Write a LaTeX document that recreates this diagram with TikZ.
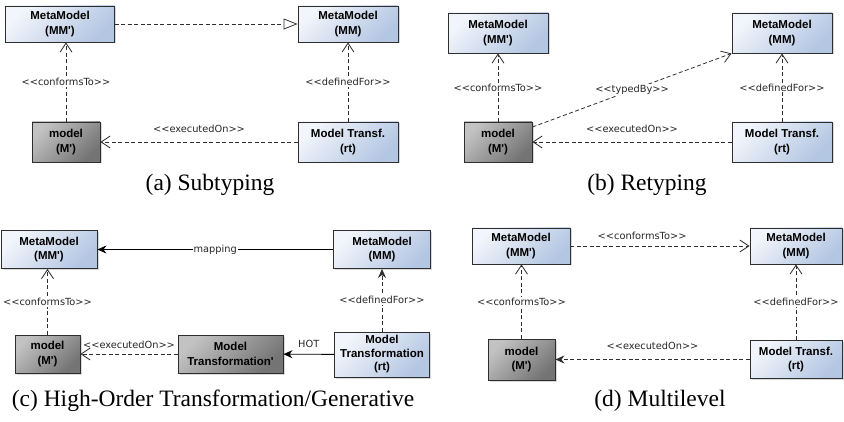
\documentclass[tikz,border=0pt]{standalone}
\usepackage{fontspec}
\setmainfont{Liberation Serif}
\newfontfamily\boxfont{Liberation Sans}
\newfontfamily\lblfont{DejaVu Sans}
\usetikzlibrary{arrows.meta,shadows}
\definecolor{metatop}{HTML}{F2F5FB}
\definecolor{metabot}{HTML}{B3C6E2}
\definecolor{modeltop}{HTML}{C2C2C2}
\definecolor{modelbot}{HTML}{747474}
\definecolor{edge}{HTML}{2E2E2E}
\tikzstyle{metabox}=[rectangle, draw=edge, line width=0.9pt, top color=metatop, bottom color=metabot, shading angle=45, drop shadow={opacity=0.3, shadow xshift=1.5pt, shadow yshift=-1.5pt}, align=center, inner sep=0pt, font=\boxfont\bfseries\fontsize{11.5}{14.5}\selectfont]
\tikzstyle{modelbox}=[metabox, top color=modeltop, bottom color=modelbot, shading angle=45]
\tikzstyle{lbl}=[font=\lblfont\fontsize{9.8}{11}\selectfont, inner sep=1pt, text=black!85]
\tikzstyle{onlbl}=[lbl, fill=white]
\tikzstyle{dep}=[draw=edge, line width=0.8pt, dash pattern=on 4pt off 2.5pt, -{Straight Barb[length=9pt,width=12pt]}]
\tikzstyle{depfill}=[draw=edge, line width=0.8pt, dash pattern=on 4pt off 2.5pt, -{Stealth[length=9pt,width=8pt,inset=3pt]}]
\tikzstyle{plain}=[draw=black, line width=0.9pt, -{Stealth[length=9pt,width=8pt,inset=3pt]}]
\tikzstyle{captext}=[font=\fontsize{23.5}{28}\selectfont]

\begin{document}
\begin{tikzpicture}[x=1pt, y=-1pt]
\useasboundingbox (0,0) rectangle (844,422);
% (a)
\node[metabox, minimum width=109pt, minimum height=36pt] (a1) at (60,24) {MetaModel\\(MM\textquotesingle)};
\node[metabox, minimum width=100pt, minimum height=36pt] (a2) at (348,24) {MetaModel\\(MM)};
\node[modelbox, minimum width=68pt, minimum height=40pt] (a3) at (66,142) {model\\(M\textquotesingle)};
\node[metabox, minimum width=100pt, minimum height=40pt] (a4) at (348,142) {Model Transf.\\(rt)};
\draw[dep] (a3) -- node[onlbl] {<<conformsTo>>} (a3 |- a1.south);
\draw[dep] (a4) -- node[onlbl] {<<definedFor>>} (a4 |- a2.south);
\draw[dep, -{Triangle[open, length=14pt, width=11pt, fill=white]}] (a1) -- (a2);
\draw[dep] (a4) -- node[lbl, above=8pt] {<<executedOn>>} (a3);
\node[captext] (capa) at (210,185) {(a) Subtyping};
% (b)
\node[metabox, minimum width=100pt, minimum height=40pt] (b1) at (498,33) {MetaModel\\(MM\textquotesingle)};
\node[metabox, minimum width=100pt, minimum height=40pt] (b2) at (782,33) {MetaModel\\(MM)};
\node[modelbox, minimum width=68pt, minimum height=40pt] (b3) at (498,142) {model\\(M\textquotesingle)};
\node[metabox, minimum width=100pt, minimum height=40pt] (b4) at (782,142) {Model Transf.\\(rt)};
\draw[dep] (b3) -- node[onlbl] {<<conformsTo>>} (b1);
\draw[dep] (b4) -- node[onlbl] {<<definedFor>>} (b2);
\draw[dep] ([yshift=15pt]b3.east) -- node[onlbl] {<<typedBy>>} (b2.south west);
\draw[dep] (b4) -- node[lbl, above=8pt] {<<executedOn>>} (b3);
\node[captext] (capb) at (647,185) {(b) Retyping};
% (c)
\node[metabox, minimum width=96pt, minimum height=38pt] (c1) at (49,249.5) {MetaModel\\(MM\textquotesingle)};
\node[metabox, minimum width=97pt, minimum height=38pt] (c2) at (382,249.5) {MetaModel\\(MM)};
\node[modelbox, minimum width=65pt, minimum height=38pt] (c3) at (47.5,354) {model\\(M\textquotesingle)};
\node[modelbox, minimum width=105pt, minimum height=38pt] (c4) at (230.5,354) {Model\\Transformation\textquotesingle};
\node[metabox, minimum width=95pt, minimum height=45pt, font=\boxfont\bfseries\fontsize{11.5}{13.5}\selectfont] (c5) at (382,354.5) {Model\\Transformation\\(rt)};
\draw[plain] (c2) -- node[onlbl] {mapping} (c1);
\draw[dep] (c3) -- node[onlbl] {<<conformsTo>>} (c3 |- c1.south);
\draw[depfill] (c5) -- node[onlbl] {<<definedFor>>} (c2);
\draw[plain] (c5) -- node[lbl, above=5pt] {HOT} (c4);
\draw[dep] (c4) -- node[lbl, above=4pt] {<<executedOn>>} (c3);
\node[captext] (capc) at (213,401) {(c) High-Order Transformation/Generative};
% (d)
\node[metabox, minimum width=98pt, minimum height=36pt] (d1) at (521,246) {MetaModel\\(MM\textquotesingle)};
\node[metabox, minimum width=92pt, minimum height=36pt] (d2) at (796,246) {MetaModel\\(MM)};
\node[modelbox, minimum width=67pt, minimum height=41pt] (d3) at (521.5,359.5) {model\\(M\textquotesingle)};
\node[metabox, minimum width=92pt, minimum height=38pt] (d4) at (796,359.5) {Model Transf.\\(rt)};
\draw[dep] (d1) -- node[lbl, above=5pt, pos=0.4] {<<conformsTo>>} (d2);
\draw[dep] (d3) -- node[onlbl] {<<conformsTo>>} (d3 |- d1.south);
\draw[dep] (d4) -- node[onlbl] {<<definedFor>>} (d2);
\draw[depfill] (d4) -- node[lbl, above=8pt] {<<executedOn>>} (d3);
\node[captext] (capd) at (660,401) {(d) Multilevel};
\end{tikzpicture}
\end{document}
